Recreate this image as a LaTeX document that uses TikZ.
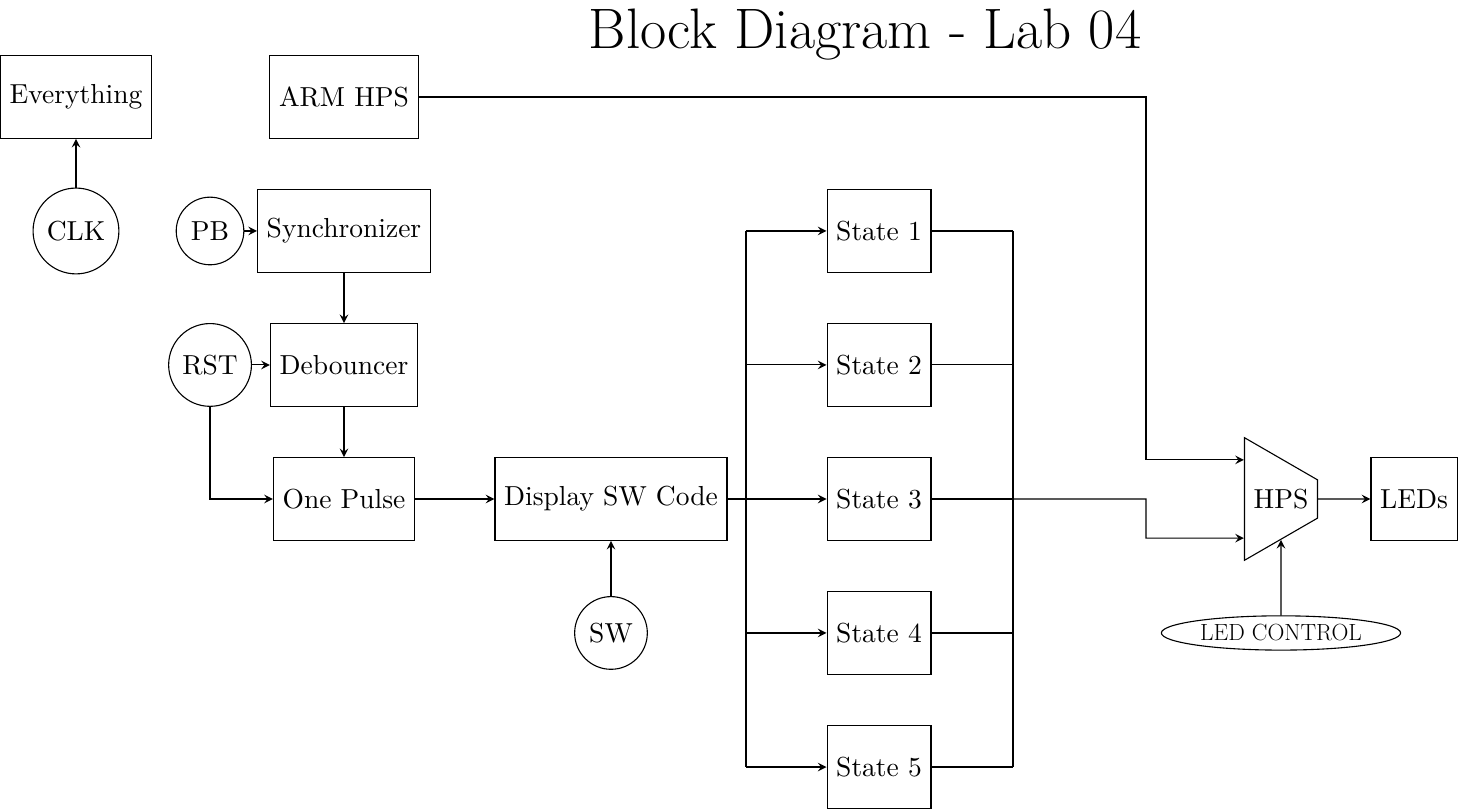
\documentclass[tikz,border=0pt]{standalone}
\usetikzlibrary{shapes.geometric,arrows}

\begin{document}
\begin{tikzpicture}[
    >=stealth,
    % Core styles
    title_text/.style={font=\huge},
    block/.style={draw, rectangle, minimum height=3em},
    sig/.style={draw, circle},
    mux/.style={draw, trapezium, shape border rotate=270},
    ctl/.style={draw, ellipse, font=\huge, scale=0.41},
    flow/.style={->}
  ]

  % Bounding box locked to the 1459 x 810 frame
  \useasboundingbox (0, 0) rectangle (18.645, 10.351);

  % ---------------------------------------------------------
  % TITLE
  % ---------------------------------------------------------
  \node[title_text] (title) at (11.054, 9.904) {Block Diagram - Lab 04};

  % ---------------------------------------------------------
  % INPUT SIDE
  % ---------------------------------------------------------
  \node[block] (every) at (0.971, 9.111) {Everything};
  \node[block] (arm) at (4.396, 9.111) {ARM HPS};
  \node[sig] (clk) at (0.971, 7.399) {CLK};
  \node[sig] (pb) at (2.684, 7.399) {PB};
  \node[block] (sync) at (4.396, 7.399) {Synchronizer};
  \node[sig] (rst) at (2.684, 5.687) {RST};
  \node[block] (deb) at (4.396, 5.687) {Debouncer};
  \node[block] (pulse) at (4.396, 3.974) {One Pulse};
  \node[block] (disp) at (7.808, 3.974) {Display SW Code};
  \node[sig] (sw) at (7.808, 2.262) {SW};

  \draw[flow] (clk) -- (every);
  \draw[flow] (pb) -- (sync);
  \draw[flow] (sync) -- (deb);
  \draw[flow] (rst) -- (deb);
  \draw[flow] (deb) -- (pulse);
  \draw[flow] (rst.south) |- (pulse.west);
  \draw[flow] (pulse) -- (disp);
  \draw[flow] (sw) -- (disp);

  % ---------------------------------------------------------
  % STATES (fan out / fan in)
  % ---------------------------------------------------------
  \node[block] (s1) at (11.233, 7.399) {State 1};
  \node[block] (s2) at (11.233, 5.687) {State 2};
  \node[block] (s3) at (11.233, 3.974) {State 3};
  \node[block] (s4) at (11.233, 2.262) {State 4};
  \node[block] (s5) at (11.233, 0.549) {State 5};

  \coordinate (splittop) at (9.533, 7.399);
  \coordinate (splitbot) at (9.533, 0.549);
  \coordinate (mergetop) at (12.945, 7.399);
  \coordinate (mergebot) at (12.945, 0.549);

  \draw (splittop) -- (splitbot);
  \draw (mergetop) -- (mergebot);
  \draw (disp.east) -- (disp.east -| splittop);
  \foreach \i in {1,...,5} {
    \draw[flow] (s\i.west -| splittop) -- (s\i.west);
    \draw (s\i.east) -- (s\i.east -| mergetop);
  }

  % ---------------------------------------------------------
  % OUTPUT SIDE
  % ---------------------------------------------------------
  \node[mux] (hps) at (16.370, 3.974) {HPS};
  \node[block] (leds) at (18.070, 3.974) {LEDs};
  \node[ctl] (ledctl) at (16.370, 2.262) {LED CONTROL};

  \draw[flow] (arm.east) -| ([xshift=-1.252cm, yshift=0.5cm]hps.west) -- ([yshift=0.5cm]hps.west);
  \draw[flow] (s3.east) -- ([xshift=-1.252cm]hps.west) |- ([yshift=-0.5cm]hps.west);
  \draw[flow] (hps) -- (leds);
  \draw[flow] (ledctl) -- (hps);

\end{tikzpicture}
\end{document}
